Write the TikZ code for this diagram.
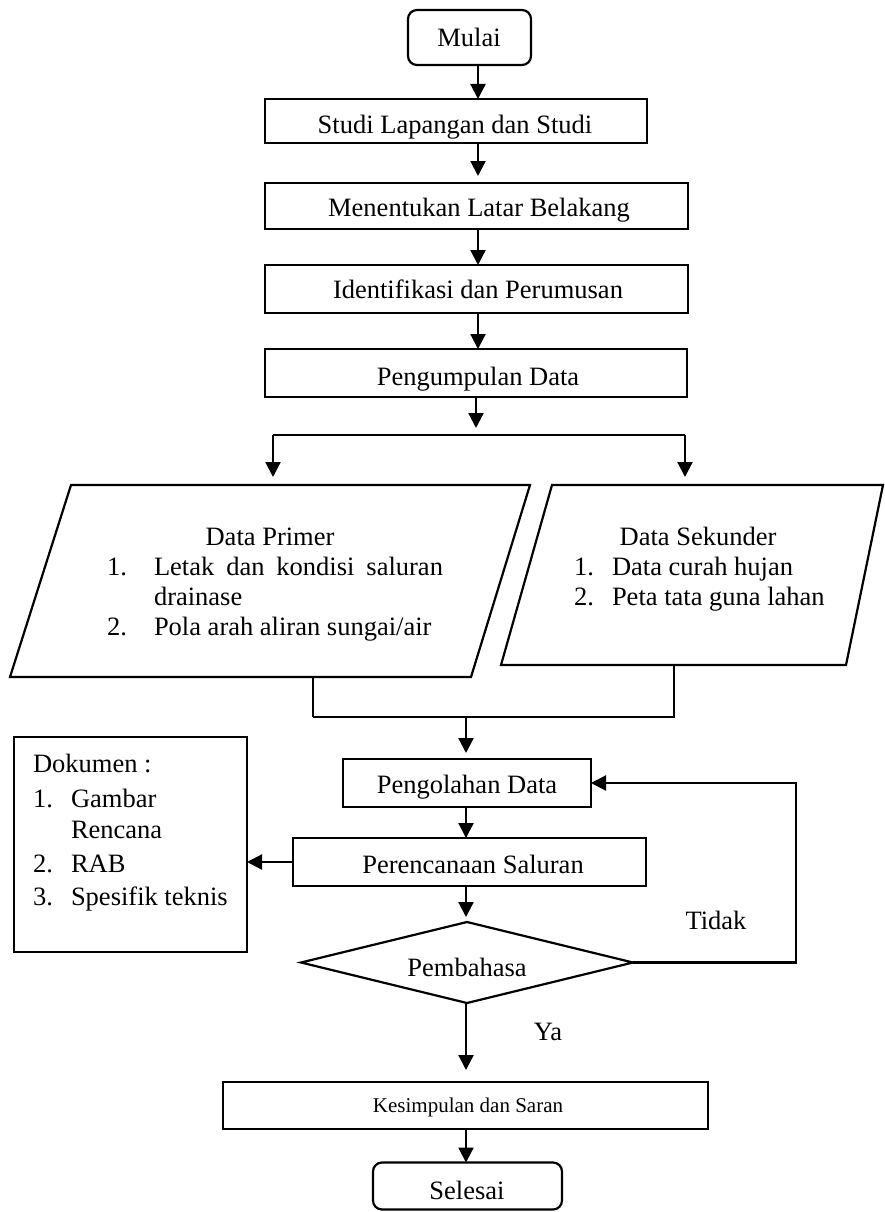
\documentclass[tikz,border=0pt]{standalone}
\usepackage{fontspec}
\setmainfont{Liberation Serif}
\usetikzlibrary{shapes.geometric,arrows.meta,calc}
\begin{document}
\begin{tikzpicture}[x=1pt,y=-1pt,
 line width=2.2pt,
 box/.style={draw,line width=2.2pt,inner sep=0pt,outer sep=0pt},
 rbox/.style={box,rounded corners=9pt},
 dia/.style={box,diamond},
 para/.style={line width=2.2pt,line join=miter},
 txt/.style={inner sep=0pt,outer sep=0pt,anchor=base,font=\fontsize{26.5}{30}\selectfont},
 txtw/.style={txt,anchor=base west},
 small/.style={txt,font=\fontsize{21}{25}\selectfont},
 arr/.style={-{Triangle[width=15pt,length=15pt]},line width=2.2pt},
 ln/.style={line width=2.2pt}
]
\useasboundingbox (0,0) rectangle (885,1212);

% axes for connectors
\coordinate (ax) at (478,0);
\coordinate (bx) at (466,0);

% top chain
\node[rbox,minimum width=123pt,minimum height=55pt] (mulai) at (469.5,37.5) {};
\node[txt] (tmulai) at (469,47) {Mulai};

\node[box,minimum width=382pt,minimum height=44pt] (studi) at (456,121) {};
\node[txt] (tstudi) at (455,133) {Studi Lapangan dan Studi};

\node[box,minimum width=423pt,minimum height=46pt] (latar) at (476.5,206) {};
\node[txt] (tlatar) at (479,216) {Menentukan Latar Belakang};

\node[box,minimum width=423pt,minimum height=48pt] (ident) at (476.5,289) {};
\node[txt] (tident) at (478,298) {Identifikasi dan Perumusan};

\node[box,minimum width=422pt,minimum height=48pt] (kumpul) at (476,373) {};
\node[txt] (tkumpul) at (478,385) {Pengumpulan Data};

\draw[arr] (mulai.south -| ax) -- (studi.north -| ax);
\draw[arr] (studi.south -| ax) -- ([yshift=7pt]latar.north -| ax);
\draw[arr] (latar.south -| ax) -- (ident.north -| ax);
\draw[arr] (ident.south -| ax) -- (kumpul.north -| ax);

% parallelograms (drawn directly)
\coordinate (p-tl) at (71,485);
\coordinate (p-tr) at (530,485);
\coordinate (p-br) at (471,677);
\coordinate (p-bl) at (10,677);
\draw[para] (p-tl) -- (p-tr) -- (p-br) -- (p-bl) -- cycle;

\coordinate (s-tl) at (552,485);
\coordinate (s-tr) at (883,485);
\coordinate (s-br) at (846,665);
\coordinate (s-bl) at (501,665);
\draw[para] (s-tl) -- (s-tr) -- (s-br) -- (s-bl) -- cycle;

% split
\coordinate (sp) at (476,435);
\coordinate (spl) at (273,435);
\coordinate (spr) at (685,435);
\draw[arr,shorten >=7pt] (kumpul.south -| sp) -- (sp);
\draw[ln] (spl) -- (spr);
\draw[arr,shorten >=8pt] (spl) -- (spl |- p-tl);
\draw[arr,shorten >=8pt] (spr) -- (spr |- s-tl);

% Data primer text
\node[txt] (tprim) at (270,545) {Data Primer};
\node[txtw] (p1n) at (107,575) {1.};
\node[txtw] (p1) at (154,575) {\hbox to 289pt{Letak\hfill dan\hfill kondisi\hfill saluran}};
\node[txtw] (p1b) at (154,605) {drainase};
\node[txtw] (p2n) at (107,635) {2.};
\node[txtw] (p2) at (154,635) {Pola arah aliran sungai/air};

% Data sekunder text
\node[txt] (tsek) at (698,545) {Data Sekunder};
\node[txtw] (s1n) at (574,575) {1.};
\node[txtw] (s1) at (612,575) {Data curah hujan};
\node[txtw] (s2n) at (574,605) {2.};
\node[txtw] (s2) at (612,605) {Peta tata guna lahan};

% merge
\coordinate (ml) at (313,717);
\coordinate (mr) at (674,717);
\coordinate (mm) at (466,717);
\draw[line width=1.2pt] (ml |- p-bl) -- (ml);
\draw[ln] (ml) -- (mr) -- (mr |- s-bl);

% lower chain
\node[box,minimum width=248pt,minimum height=48pt] (olah) at (467,783) {};
\node[txt] (tolah) at (467,793) {Pengolahan Data};

\node[box,minimum width=353pt,minimum height=48pt] (renc) at (469.5,862) {};
\node[txt] (trenc) at (473,873) {Perencanaan Saluran};

\node[box,minimum width=233pt,minimum height=215pt] (dok) at (130.5,844.5) {};
\node[txtw] (d0) at (33,772) {Dokumen :};
\node[txtw] (d1n) at (33,807) {1.};
\node[txtw] (d1) at (71,807) {Gambar};
\node[txtw] (d1b) at (71,838) {Rencana};
\node[txtw] (d2n) at (33,872) {2.};
\node[txtw] (d2) at (71,872) {RAB};
\node[txtw] (d3n) at (33,905) {3.};
\node[txtw] (d3) at (71,905) {Spesifik teknis};

\node[dia,minimum width=332pt,minimum height=81pt] (bahas) at (467,962.5) {};
\node[txt] (tbahas) at (467,976) {Pembahasa};

\node[box,minimum width=485pt,minimum height=47pt] (kes) at (465.5,1105.5) {};
\node[small] (tkes) at (468,1112) {Kesimpulan dan Saran};

\node[rbox,minimum width=189pt,minimum height=47pt] (sel) at (467.5,1186) {};
\node[txt] (tsel) at (467,1199) {Selesai};

\node[txt] (tya) at (548,1040) {Ya};
\node[txt] (ttidak) at (716,929) {Tidak};

\draw[arr,shorten >=6pt] (mm) -- (olah.north -| mm);
\draw[arr] (olah.south -| bx) -- (renc.north -| bx);
\draw[arr] (renc.west) -- (renc.west -| dok.east);
\draw[arr,shorten >=5pt] (renc.south -| bx) -- (bahas.north -| bx);
\draw[arr,shorten >=12pt] (bahas.south -| bx) -- (kes.north -| bx);
\draw[arr] (kes.south -| bx) -- (sel.north -| bx);

\coordinate (lp) at (796,0);
\draw[arr] (bahas.east) -- (bahas.east -| lp) |- (olah.east);

\end{tikzpicture}
\end{document}
